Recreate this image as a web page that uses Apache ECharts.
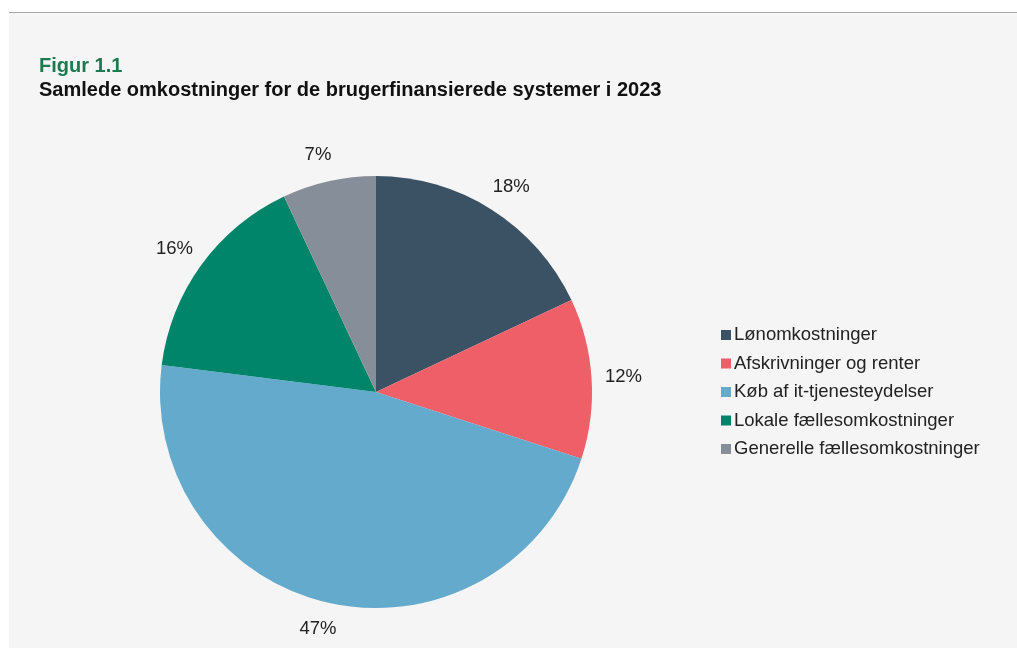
<!DOCTYPE html>
<html>
<head>
<meta charset="utf-8">
<script src="https://cdn.jsdelivr.net/npm/echarts@6/dist/echarts.min.js"></script>
<style>
  html,body{margin:0;padding:0;background:#fff;}
  #panel{position:absolute;left:9px;top:12px;width:1008px;height:636px;background:#f5f5f5;border-top:1px solid #a9a9a9;}
  #chart{position:absolute;left:0;top:0;width:1017px;height:648px;}
</style>
</head>
<body>
<div id="panel"></div>
<div id="chart"></div>
<script>
var categories=['Lønomkostninger','Afskrivninger og renter','Køb af it-tjenesteydelser','Lokale fællesomkostninger','Generelle fællesomkostninger'];
var values=[18,12,47,16,7];
var colors=['#3b5264','#ee5f67','#63aacd','#00856a','#868f99'];
var font='"Liberation Sans", Arial, sans-serif';

var data=[];
for (var i=0;i<categories.length;i++) {
  data.push({name:categories[i],value:values[i]});
}

var option={
  animation:false,
  color:colors,
  title:[
    {
      text:'Figur 1.1',
      left:39,
      top:56,
      padding:0,
      textStyle:{fontFamily:font,fontSize:20,fontWeight:'bold',color:'#1b7a50'}
    },
    {
      text:'Samlede omkostninger for de brugerfinansierede systemer i 2023',
      left:39,
      top:80,
      padding:0,
      textStyle:{fontFamily:font,fontSize:20,fontWeight:'bold',color:'#111'}
    }
  ],
  legend:{
    orient:'vertical',
    left:716,
    top:320,
    itemWidth:10,
    itemHeight:10,
    itemGap:8.5,
    icon:'rect',
    textStyle:{fontFamily:font,fontSize:18.5,color:'#222',padding:[0,0,0,-2],lineHeight:20},
    data:categories
  },
  series:[
    {
      type:'pie',
      center:[376,392],
      radius:216,
      startAngle:90,
      clockwise:true,
      data:data,
      label:{
        show:true,
        position:'outside',
        formatter:'{c}%',
        fontFamily:font,
        fontSize:18.5,
        color:'#222'
      },
      labelLine:{show:false,length:27,length2:0},
      labelLayout:{align:'center'},
      itemStyle:{borderWidth:0},
      emphasis:{disabled:true}
    }
  ]
};

var chart=echarts.init(document.getElementById('chart'));
chart.setOption(option);
</script>
</body>
</html>
